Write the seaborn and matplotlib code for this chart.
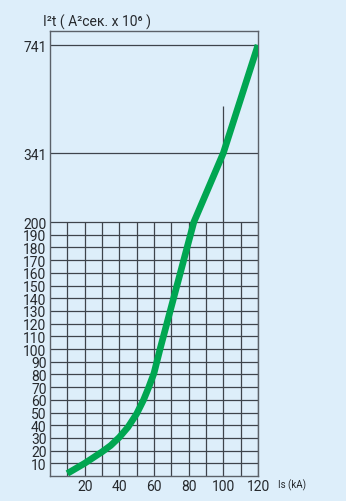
import numpy as np
import pandas as pd
import matplotlib
matplotlib.use("Agg")
import matplotlib.pyplot as plt
import seaborn as sns

# ---- data ----
curve_x = [10, 15, 20, 25, 30, 35, 40, 45, 50, 54, 57, 60, 63.5, 83, 100, 120]
curve_y = [2, 6, 10, 14.5, 19, 24, 30.5, 38.5, 49, 60, 70, 81, 100, 200, 341, 741]
y_tick_values = [10, 20, 30, 40, 50, 60, 70, 80, 90, 100, 110, 120, 130, 140, 150,
                 160, 170, 180, 190, 200, 341, 741]
y_tick_labels = [str(v) for v in y_tick_values]
x_tick_values = [20, 40, 60, 80, 100, 120]
x_tick_labels = ["20", "40", "60", "80", "100", "120"]
grid_x = [10, 20, 30, 40, 50, 60, 70, 80, 90, 100, 110, 120]
grid_y = [10, 20, 30, 40, 50, 60, 70, 80, 90, 100, 110, 120, 130, 140, 150,
          160, 170, 180, 190, 200]
upper_levels = [341, 741]
title = "I²t ( A²сек. x 10⁶ )"
x_unit = "Is (kA)"

# ---- styling ----
bg = "#ddeefa"
grid_c = "#3e444c"
spine_c = "#5b6169"
green = "#00a651"
txt_c = "#26292d"

sns.set_style("white")
plt.rcParams["font.family"] = ["Roboto", "DejaVu Sans"]

# piecewise-linear vertical scale (broken axis above 200)
knots_v = np.array([0.0, 200.0, 341.0, 741.0, 2000.0])
knots_p = np.array([0.0, 254.0, 323.0, 431.0, 431.0 + 1259.0 * 0.27])

def fwd(v):
    return np.interp(v, knots_v, knots_p)

def inv(p):
    return np.interp(p, knots_p, knots_v)

fig = plt.figure(figsize=(3.46, 5.02), dpi=100)
fig.patch.set_facecolor(bg)
ax = fig.add_axes([50 / 346, 25 / 502, 208 / 346, 445 / 502])
ax.set_facecolor(bg)
ax.set_yscale("function", functions=(fwd, inv))
ax.set_xlim(0, 120)
ax.set_ylim(0, 793)

# grid
ax.hlines(grid_y, 0, 120, colors=grid_c, linewidth=0.9, zorder=1)
ax.vlines(grid_x, 0, 200, colors=grid_c, linewidth=0.9, zorder=1)
ax.vlines([100], 200, 515, colors=grid_c, linewidth=0.9, zorder=1)
ax.hlines(upper_levels, 0, 120, colors=grid_c, linewidth=0.9, zorder=1)

df = pd.DataFrame({"Is": curve_x, "I2t": curve_y})
sns.lineplot(data=df, x="Is", y="I2t", ax=ax, color=green, linewidth=4.8,
             sort=False, estimator=None, zorder=3, solid_capstyle="butt",
             solid_joinstyle="round")

for s in ax.spines.values():
    s.set_color(spine_c)
    s.set_linewidth(1.0)

ax.set_yticks(y_tick_values)
ax.set_yticklabels(y_tick_labels)
ax.set_xticks(x_tick_values)
ax.set_xticklabels(x_tick_labels)
ax.yaxis.set_minor_locator(matplotlib.ticker.NullLocator())
ax.tick_params(axis="both", length=0, labelsize=10, colors=txt_c)
ax.tick_params(axis="y", pad=2.5)
ax.tick_params(axis="x", pad=2)
ax.set_xlabel("")
ax.set_ylabel("")

fig.text(97 / 346, 1 - 22 / 502, title, ha="center", va="center",
         fontsize=10, color=txt_c)
fig.text(278 / 346, 1 - 485 / 502, x_unit, ha="left", va="center",
         fontsize=7, color=txt_c)

fig.savefig("out.png", dpi=100, facecolor=bg)
